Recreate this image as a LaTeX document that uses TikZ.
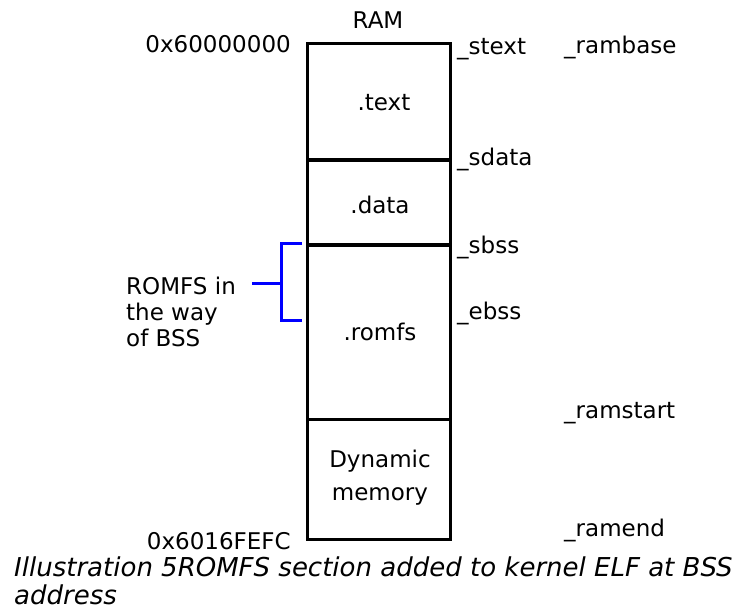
\documentclass[tikz,border=0pt]{standalone}
\usepackage{fontspec}
\setmainfont{DejaVu Sans}
\begin{document}
\begin{tikzpicture}[x=1pt,y=-1pt,
  lbl/.style={inner sep=0pt,font=\fontsize{23}{26}\selectfont},
  sec/.style={lbl,align=center},
  wall/.style={line width=3pt},
  split/.style={line width=3.6pt},
  brace/.style={draw=blue,line width=3pt}]
\useasboundingbox (0,0) rectangle (740,609);
% memory column
\coordinate (tl) at (307,44);
\coordinate (br) at (450,540);
\draw[wall] (tl) rectangle (br);
\coordinate (d1l) at (307,160); \coordinate (d1r) at (450,160);
\coordinate (d2l) at (307,245); \coordinate (d2r) at (450,245);
\coordinate (d3l) at (307,420); \coordinate (d3r) at (450,420);
\draw[split] (d1l) -- (d1r);
\draw[split] (d2l) -- (d2r);
\draw[wall] (d3l) -- (d3r);
% section names
\node[sec] (text) at (384,103) {.text};
\node[sec] (data) at (380,205) {.data};
\node[sec] (romfs) at (380,332) {.romfs};
\node[sec,font=\fontsize{23}{33}\selectfont] (dyn) at (380,478) {Dynamic\\memory};
\node[lbl] (ram) at (378,20) {RAM};
% addresses
\node[lbl,anchor=east] (a0) at (291,44) {0x60000000};
\node[lbl,anchor=east] (a1) at (291,541) {0x6016FEFC};
% symbols
\node[lbl,anchor=west] (stext) at (457,49) {\_stext};
\node[lbl,anchor=west] (sdata) at (457,159) {\_sdata};
\node[lbl,anchor=west] (sbss) at (457,247) {\_sbss};
\node[lbl,anchor=west] (ebss) at (457,313) {\_ebss};
\node[lbl,anchor=west] (rambase) at (564,47) {\_rambase};
\node[lbl,anchor=west] (ramstart) at (564,413) {\_ramstart};
\node[lbl,anchor=west] (ramend) at (564,530) {\_ramend};
% note with bracket
\node[lbl,anchor=west,align=left] (note) at (126,312) {ROMFS in\\the way\\of BSS};
\coordinate (bt) at (302,244);
\coordinate (bb) at (302,321);
\coordinate (stub) at (252,284);
\draw[brace] (bt) -- (281,244) -- (281,321) -- (bb);
\draw[brace] (stub) -- (281,284);
% caption
\node[lbl,anchor=north west,align=left,font=\fontsize{26}{28}\selectfont\itshape] (cap) at (14,557)
  {Illustration 5ROMFS section added to kernel ELF at BSS\\address};
\end{tikzpicture}
\end{document}
